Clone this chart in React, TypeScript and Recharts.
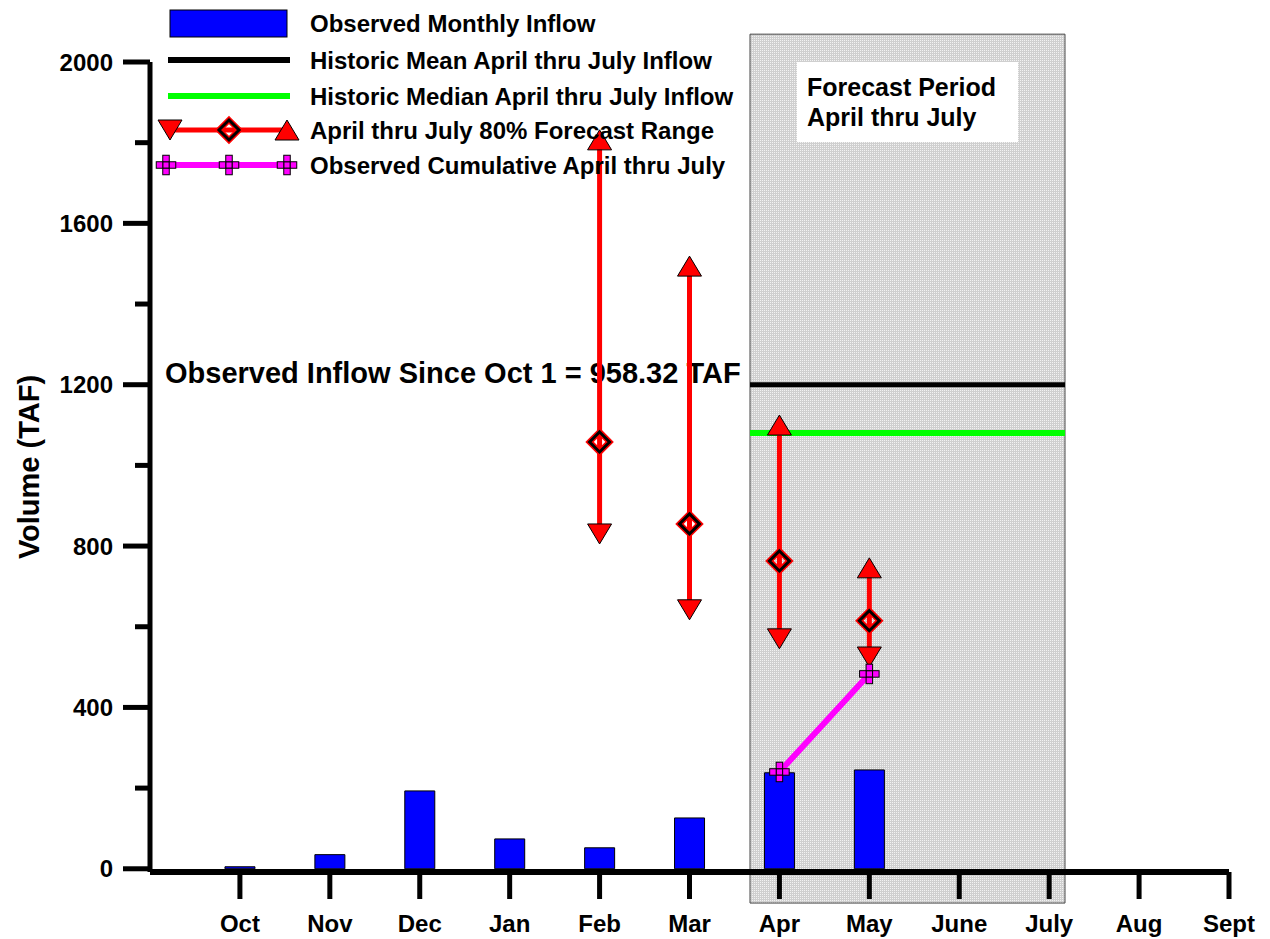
// Reservoir inflow vs. April–July forecast range
import {
  ComposedChart,
  Bar,
  Scatter,
  ErrorBar,
  XAxis,
  YAxis,
  ReferenceArea,
  ReferenceLine,
  Legend,
} from "recharts";

const MONTHS = ["Oct", "Nov", "Dec", "Jan", "Feb", "Mar", "Apr", "May", "June", "July", "Aug", "Sept"];
const MONTHLY_INFLOW = [5, 35, 193, 74, 52, 126, 238, 245, null, null, null, null];

// forecast issued Feb..May (month index into MONTHS)
const FORECAST_MONTHS = [4, 5, 6, 7];
const FORECAST_LOW = [830, 642, 570, 525];
const FORECAST_MID = [1058, 855, 763, 615];
const FORECAST_HIGH = [1807, 1494, 1100, 746];

const CUMULATIVE_MONTHS = [6, 7];
const CUMULATIVE = [240, 483];

const HIST_MEAN = 1200;
const HIST_MEDIAN = 1080;
const OBSERVED_TOTAL = "958.32";

const Y_TICKS = [0, 200, 400, 600, 800, 1000, 1200, 1400, 1600, 1800, 2000];
const X_TICKS = MONTHS.map((_, i) => i);

// forecast period shading spans a bit past Apr..July
const PERIOD_X1 = 5.673;
const PERIOD_X2 = 9.176;

const FONT = "'Liberation Sans', Arial, Helvetica, sans-serif";

const data = MONTHS.map((m, i) => ({ idx: i, month: m, inflow: MONTHLY_INFLOW[i] }));
const forecast = FORECAST_MONTHS.map((idx, i) => ({
  idx,
  low: FORECAST_LOW[i],
  mid: FORECAST_MID[i],
  high: FORECAST_HIGH[i],
}));
const cumulative = CUMULATIVE_MONTHS.map((idx, i) => ({ idx, cum: CUMULATIVE[i] }));

const triUp = (cx: number, cy: number) => (
  <polygon
    points={`${cx},${cy - 10} ${cx + 12},${cy + 10} ${cx - 12},${cy + 10}`}
    fill="#ff0000"
    stroke="#000"
    strokeWidth={1}
  />
);
const triDown = (cx: number, cy: number) => (
  <polygon
    points={`${cx - 12},${cy - 10} ${cx + 12},${cy - 10} ${cx},${cy + 10}`}
    fill="#ff0000"
    stroke="#000"
    strokeWidth={1}
  />
);
const diamond = (cx: number, cy: number) => {
  const pts = `${cx},${cy - 10} ${cx + 10},${cy} ${cx},${cy + 10} ${cx - 10},${cy}`;
  return (
    <g>
      <polygon points={pts} fill="none" stroke="#ff0000" strokeWidth={6} />
      <polygon points={pts} fill="none" stroke="#000" strokeWidth={3} />
    </g>
  );
};
const plus = (cx: number, cy: number) => {
  const s = 6.5;
  const cells = [
    [0, 0],
    [0, -1],
    [0, 1],
    [-1, 0],
    [1, 0],
  ];
  return (
    <g>
      {cells.map(([dx, dy], i) => (
        <rect
          key={i}
          x={cx - s / 2 + dx * s}
          y={cy - s / 2 + dy * s}
          width={s}
          height={s}
          fill="#ff00ff"
          stroke="#000"
          strokeWidth={1}
        />
      ))}
    </g>
  );
};

function YTick(props: any) {
  const { x, y, payload } = props;
  const major = payload.value % 400 === 0;
  return (
    <g>
      <line x1={x - (major ? 27 : 15)} x2={x} y1={y} y2={y} stroke="#000" strokeWidth={5} />
      {major && (
        <text x={x - 37} y={y} dy="0.36em" textAnchor="end" fontFamily={FONT} fontWeight="bold" fontSize={24} fill="#000">
          {payload.value}
        </text>
      )}
    </g>
  );
}

function XTick(props: any) {
  const { x, y, payload } = props;
  return (
    <text x={x} y={y + 31} textAnchor="middle" fontFamily={FONT} fontWeight="bold" fontSize={24} fill="#000">
      {MONTHS[payload.value]}
    </text>
  );
}

function LegendBox() {
  const rows = [
    "Observed Monthly Inflow",
    "Historic Mean April thru July Inflow",
    "Historic Median April thru July Inflow",
    "April thru July 80% Forecast Range",
    "Observed Cumulative April thru July",
  ];
  const ys = [23, 60, 96, 130, 165];
  return (
    <svg width={620} height={185} style={{ display: "block" }}>
      <rect x={20} y={10} width={117} height={27} fill="#0000ff" stroke="#000" strokeWidth={1} />
      <line x1={18} x2={140} y1={ys[1]} y2={ys[1]} stroke="#000" strokeWidth={6} />
      <line x1={18} x2={140} y1={ys[2]} y2={ys[2]} stroke="#00ff00" strokeWidth={6} />
      <line x1={20} x2={137} y1={ys[3]} y2={ys[3]} stroke="#ff0000" strokeWidth={5} />
      {triDown(20, ys[3])}
      {diamond(79, ys[3])}
      {triUp(137, ys[3])}
      <line x1={16} x2={137} y1={ys[4]} y2={ys[4]} stroke="#ff00ff" strokeWidth={6} />
      {plus(16, ys[4])}
      {plus(79, ys[4])}
      {plus(137, ys[4])}
      {rows.map((r, i) => (
        <text key={r} x={160} y={ys[i] + 9} fontFamily={FONT} fontWeight="bold" fontSize={24} fill="#000">
          {r}
        </text>
      ))}
    </svg>
  );
}

export default function App() {
  return (
    <div style={{ position: "relative", width: 1262, height: 931 }}>
      <svg width={1262} height={931} style={{ position: "absolute", left: 0, top: 0 }}>
        <text x={157} y={375} fontFamily={FONT} fontWeight="bold" fontSize={29} fill="#000">
          {`Observed Inflow Since Oct 1 = ${OBSERVED_TOTAL} TAF`}
        </text>
        <text
          transform="translate(31,459) rotate(-90)"
          textAnchor="middle"
          fontFamily={FONT}
          fontWeight="bold"
          fontSize={29}
          fill="#000"
        >
          Volume (TAF)
        </text>
      </svg>

      <ComposedChart width={1262} height={931} data={data} margin={{ top: 54, right: 41, bottom: 0, left: 0 }}>
        <defs>
          <pattern id="stipple" width={2} height={2} patternUnits="userSpaceOnUse">
            <rect width={2} height={2} fill="#cfcfcf" />
            <rect width={1} height={1} fill="#f2f2f2" />
          </pattern>
        </defs>
        <XAxis
          dataKey="idx"
          type="number"
          domain={[-1, 11]}
          ticks={X_TICKS}
          interval={0}
          height={67}
          axisLine={{ stroke: "#000", strokeWidth: 6 }}
          tickLine={{ stroke: "#000", strokeWidth: 5 }}
          tickSize={27}
          tick={<XTick />}
        />
        <YAxis
          type="number"
          domain={[-8, 2000]}
          ticks={Y_TICKS}
          interval={0}
          width={142}
          axisLine={{ stroke: "#000", strokeWidth: 5 }}
          tickLine={false}
          tickSize={0}
          tickMargin={0}
          tick={<YTick />}
        />
        <ReferenceArea
          x1={PERIOD_X1}
          x2={PERIOD_X2}
          y1={-85}
          y2={2069}
          ifOverflow="visible"
          fill="url(#stipple)"
          fillOpacity={1}
          stroke="#444"
          strokeWidth={1}
        />
        <Bar dataKey="inflow" barSize={30} fill="#0000ff" stroke="#000" strokeWidth={1} isAnimationActive={false} />
        <ReferenceLine
          segment={[
            { x: PERIOD_X1, y: HIST_MEAN },
            { x: PERIOD_X2, y: HIST_MEAN },
          ]}
          stroke="#000"
          strokeWidth={5}
        />
        <ReferenceLine
          segment={[
            { x: PERIOD_X1, y: HIST_MEDIAN },
            { x: PERIOD_X2, y: HIST_MEDIAN },
          ]}
          stroke="#00ff00"
          strokeWidth={6}
        />
        <Scatter
          data={forecast}
          dataKey="mid"
          isAnimationActive={false}
          shape={(p: any) => diamond(p.cx, p.cy)}
        >
          <ErrorBar
            dataKey={(d: any) => [d.mid - d.low, d.high - d.mid]}
            direction="y"
            width={0}
            stroke="#ff0000"
            strokeWidth={5}
            isAnimationActive={false}
          />
        </Scatter>
        <Scatter data={forecast} dataKey="low" isAnimationActive={false} shape={(p: any) => triDown(p.cx, p.cy)} />
        <Scatter data={forecast} dataKey="high" isAnimationActive={false} shape={(p: any) => triUp(p.cx, p.cy)} />
        <Scatter
          data={cumulative}
          dataKey="cum"
          isAnimationActive={false}
          line={{ stroke: "#ff00ff", strokeWidth: 6 }}
          shape={(p: any) => plus(p.cx, p.cy)}
        />
        <Legend
          layout="horizontal"
          verticalAlign="middle"
          align="center"
          wrapperStyle={{ position: "absolute", left: 142, top: -8, width: 620, height: 185 }}
          content={() => <LegendBox />}
        />
      </ComposedChart>

      <svg width={1262} height={931} style={{ position: "absolute", left: 0, top: 0, pointerEvents: "none" }}>
        <rect x={789} y={54} width={221} height={80} fill="#fff" />
        <text x={799} y={88} fontFamily={FONT} fontWeight="bold" fontSize={25} fill="#000">
          Forecast Period
        </text>
        <text x={799} y={118} fontFamily={FONT} fontWeight="bold" fontSize={25} fill="#000">
          April thru July
        </text>
      </svg>
    </div>
  );
}
